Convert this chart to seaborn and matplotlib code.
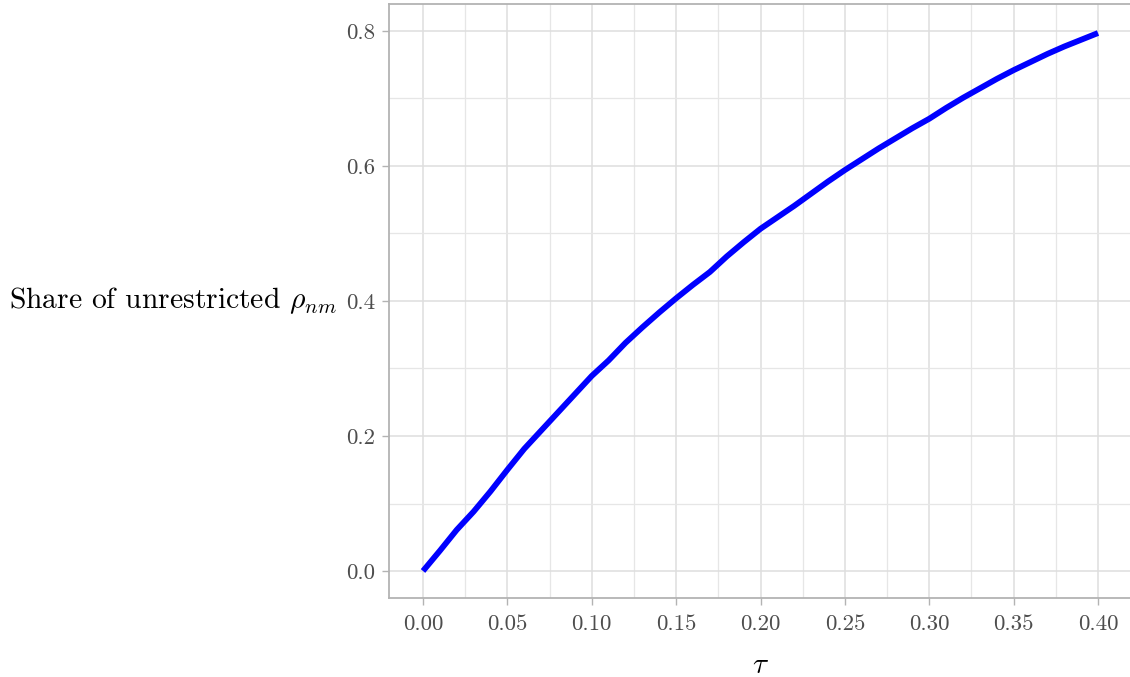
import numpy as np
import pandas as pd
import matplotlib
matplotlib.use("Agg")
import matplotlib.pyplot as plt
import seaborn as sns
from matplotlib.ticker import MultipleLocator, FormatStrFormatter

# ---- data ----
tau = [0.00, 0.01, 0.02, 0.03, 0.04, 0.05, 0.06, 0.07, 0.08, 0.09,
       0.10, 0.11, 0.12, 0.13, 0.14, 0.15, 0.16, 0.17, 0.18, 0.19,
       0.20, 0.21, 0.22, 0.23, 0.24, 0.25, 0.26, 0.27, 0.28, 0.29,
       0.30, 0.31, 0.32, 0.33, 0.34, 0.35, 0.36, 0.37, 0.38, 0.39, 0.40]
share = [0.000, 0.030, 0.061, 0.088, 0.118, 0.150, 0.181, 0.208, 0.235, 0.262,
         0.289, 0.312, 0.338, 0.361, 0.383, 0.404, 0.424, 0.443, 0.466, 0.487,
         0.507, 0.524, 0.541, 0.559, 0.577, 0.594, 0.610, 0.626, 0.641, 0.656,
         0.670, 0.686, 0.701, 0.715, 0.729, 0.742, 0.754, 0.766, 0.777, 0.787, 0.797]
x_ticks = [0.00, 0.05, 0.10, 0.15, 0.20, 0.25, 0.30, 0.35, 0.40]
y_ticks = [0.0, 0.2, 0.4, 0.6, 0.8]

df = pd.DataFrame({"tau": tau, "share": share})

sns.set_theme(style="whitegrid")
plt.rcParams["font.family"] = ["cmr10", "DejaVu Serif"]
plt.rcParams["mathtext.fontset"] = "cm"
plt.rcParams["axes.formatter.use_mathtext"] = True

W, H = 1130, 677
fig = plt.figure(figsize=(W / 100, H / 100), dpi=100)
left_px, right_px, top_px, bot_px = 389.25, 1131.75, 4.0, 598.0
ax = fig.add_axes([left_px / W, 1 - bot_px / H, (right_px - left_px) / W, (bot_px - top_px) / H])

sns.lineplot(data=df, x="tau", y="share", ax=ax, color="#0000FF", linewidth=4.2,
             solid_capstyle="butt", solid_joinstyle="round")

ax.set_xlim(-0.02, 0.42)
ax.set_ylim(-0.04, 0.84)
ax.set_xticks(x_ticks)
ax.set_yticks(y_ticks)
ax.xaxis.set_major_formatter(FormatStrFormatter("%.2f"))
ax.yaxis.set_major_formatter(FormatStrFormatter("%.1f"))
ax.xaxis.set_minor_locator(MultipleLocator(0.025))
ax.yaxis.set_minor_locator(MultipleLocator(0.1))

ax.set_facecolor("white")
ax.grid(which="major", color="#DEDEDE", linewidth=1.1)
ax.grid(which="minor", color="#E6E6E6", linewidth=0.9)
ax.set_axisbelow(True)
for s in ax.spines.values():
    s.set_visible(True)
    s.set_color("#B3B3B3")
    s.set_linewidth(1.3)

ax.tick_params(axis="both", which="major", length=5, width=1.0, color="#B3B3B3",
               labelcolor="#4D4D4D", labelsize=16.5, direction="out",
               left=True, bottom=True)
ax.tick_params(axis="y", pad=5)
ax.tick_params(axis="x", pad=7)
ax.tick_params(which="minor", length=0)

ax.set_xlabel(r"$\tau$", fontsize=21, color="black")
ax.xaxis.set_label_coords(0.5, (bot_px - 666) / (bot_px - top_px))
ax.xaxis.label.set_va("center")
ax.set_ylabel(r"Share of unrestricted $\rho_{nm}$", fontsize=21.3, color="black",
              rotation=0, ha="right", va="center")
ax.yaxis.set_label_coords((337 - left_px) / (right_px - left_px), 0.5)

fig.savefig("out.png", dpi=100, facecolor="white")
